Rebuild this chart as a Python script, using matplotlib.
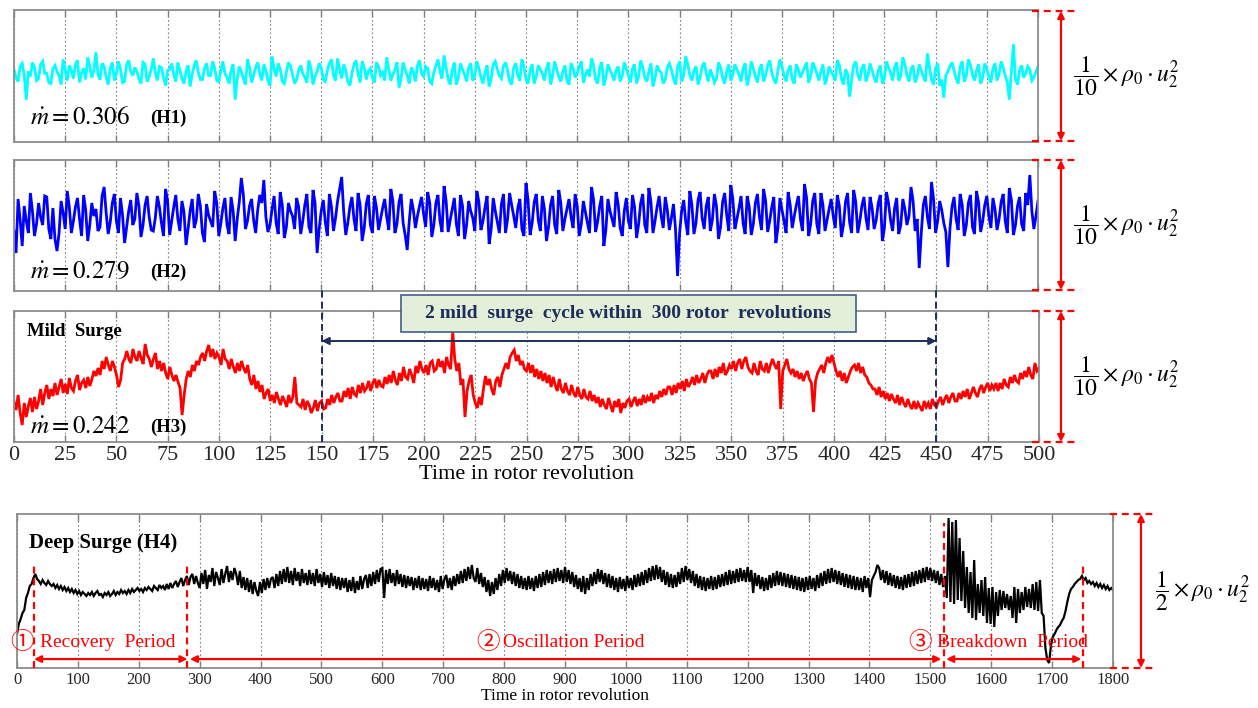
import matplotlib.pyplot as plt
import numpy as np
from matplotlib.patches import Rectangle
from matplotlib.transforms import blended_transform_factory

plt.rcParams['font.family'] = ['Liberation Serif', 'Noto Sans CJK JP', 'DejaVu Sans']
plt.rcParams['mathtext.fontset'] = 'stix'
plt.rcParams['lines.scale_dashes'] = False

W, H = 1258, 708

# pressure traces, height above the bottom of each panel
rev_short = np.arange(0, 501, 1)
rev_long = np.arange(0, 1801, 3)

h1 = [72, 64, 60, 75, 78, 66, 42, 70, 65, 79, 74, 61, 63, 77, 80, 68, 68, 59, 58, 73,
      76, 70, 66, 57, 82, 72, 61, 76, 71, 63, 77, 81, 59, 69, 73, 62, 84, 75, 64, 71,
      89, 67, 62, 78, 75, 64, 57, 73, 79, 61, 68, 80, 72, 59, 60, 77, 81, 70, 66, 74,
      70, 63, 58, 79, 77, 60, 65, 72, 83, 69, 61, 75, 74, 64, 56, 71, 72, 78, 67, 60,
      79, 71, 63, 58, 70, 76, 55, 67, 76, 81, 69, 62, 62, 73, 78, 66, 66, 80, 73, 61,
      60, 71, 80, 68, 64, 58, 71, 77, 42, 63, 75, 70, 63, 57, 82, 74, 59, 66, 74, 79,
      68, 61, 77, 71, 61, 56, 85, 73, 65, 78, 72, 60, 58, 69, 79, 75, 67, 58, 62, 71,
      76, 68, 64, 59, 81, 73, 57, 65, 70, 78, 74, 62, 60, 71, 78, 82, 66, 61, 83, 72,
      63, 77, 71, 60, 56, 68, 77, 81, 68, 59, 80, 74, 62, 70, 73, 64, 59, 79, 75, 66,
      69, 61, 84, 72, 61, 67, 72, 79, 54, 63, 79, 72, 66, 58, 74, 70, 60, 76, 81, 68,
      65, 75, 73, 60, 58, 69, 76, 82, 70, 63, 86, 74, 62, 57, 71, 79, 57, 64, 78, 72,
      67, 60, 74, 78, 61, 66, 80, 73, 64, 58, 69, 76, 55, 63, 77, 80, 72, 66, 63, 75,
      79, 71, 60, 57, 74, 78, 66, 61, 82, 75, 62, 58, 71, 77, 58, 65, 76, 72, 68, 61,
      73, 79, 57, 66, 80, 72, 65, 60, 70, 76, 61, 57, 78, 73, 64, 68, 75, 80, 59, 66,
      72, 65, 83, 76, 62, 58, 74, 79, 56, 64, 77, 72, 67, 61, 71, 75, 60, 66, 79, 73,
      66, 59, 73, 77, 58, 65, 81, 74, 64, 60, 70, 78, 55, 63, 76, 71, 69, 58, 62, 74,
      78, 72, 63, 57, 74, 80, 60, 66, 85, 77, 66, 61, 71, 75, 57, 64, 75, 79, 68, 60,
      72, 66, 59, 63, 79, 74, 64, 58, 70, 77, 61, 67, 77, 72, 67, 60, 73, 78, 56, 65,
      80, 73, 65, 59, 72, 77, 60, 66, 76, 81, 69, 62, 58, 71, 82, 75, 66, 60, 71, 76,
      62, 58, 77, 72, 64, 69, 74, 79, 59, 65, 79, 74, 68, 61, 70, 77, 57, 64, 75, 70,
      66, 61, 81, 76, 63, 57, 72, 68, 45, 62, 76, 80, 67, 61, 73, 77, 60, 66, 78, 71,
      64, 59, 71, 76, 58, 63, 80, 74, 69, 61, 74, 79, 61, 66, 84, 77, 66, 60, 72, 76,
      59, 65, 77, 71, 65, 60, 88, 74, 62, 57, 73, 78, 56, 62, 44, 66, 70, 75, 79, 71,
      63, 58, 75, 80, 60, 66, 82, 76, 67, 61, 71, 77, 58, 64, 78, 72, 65, 59, 73, 78,
      61, 67, 80, 74, 66, 59, 42, 70, 97, 62, 57, 71, 76, 64, 68, 75, 72, 61, 64, 70,
      75]

h2 = [60, 38, 92, 71, 45, 85, 70, 58, 98, 80, 55, 67, 88, 74, 66, 95, 94, 62, 52, 83,
      52, 40, 58, 90, 78, 62, 100, 84, 58, 70, 84, 93, 72, 55, 96, 81, 50, 66, 88, 75,
      82, 60, 64, 95, 104, 78, 57, 69, 88, 97, 70, 58, 93, 76, 48, 64, 80, 91, 66, 72,
      98, 85, 54, 66, 86, 95, 74, 61, 60, 73, 95, 84, 68, 55, 102, 90, 56, 70, 84, 96,
      72, 60, 90, 79, 46, 62, 80, 92, 63, 71, 97, 85, 58, 49, 87, 76, 70, 64, 100, 88,
      55, 68, 83, 93, 66, 57, 94, 80, 50, 72, 89, 113, 96, 62, 70, 85, 92, 71, 58, 81,
      96, 88, 111, 74, 59, 66, 82, 95, 68, 57, 99, 86, 53, 64, 88, 80, 75, 62, 93, 84,
      57, 70, 86, 97, 64, 58, 101, 88, 38, 62, 80, 91, 69, 55, 97, 84, 60, 73, 90, 102,
      114, 79, 56, 68, 84, 94, 72, 60, 98, 86, 50, 63, 87, 96, 66, 58, 95, 83, 61, 72,
      83, 92, 74, 61, 102, 90, 58, 67, 89, 97, 68, 56, 41, 70, 92, 81, 63, 75, 85, 94,
      77, 64, 99, 88, 54, 66, 88, 96, 70, 59, 105, 90, 59, 71, 82, 93, 67, 55, 96, 85,
      52, 66, 90, 80, 73, 60, 100, 89, 61, 70, 84, 95, 47, 62, 93, 80, 69, 58, 87, 97,
      58, 72, 98, 86, 75, 63, 83, 92, 62, 55, 108, 91, 56, 68, 89, 97, 71, 60, 95, 82,
      50, 64, 86, 95, 66, 57, 101, 88, 60, 72, 82, 92, 74, 63, 97, 85, 55, 67, 90, 79,
      68, 58, 104, 91, 59, 70, 85, 95, 45, 61, 92, 80, 72, 64, 99, 87, 63, 55, 80, 93,
      70, 62, 96, 84, 53, 67, 88, 97, 66, 58, 103, 89, 58, 70, 84, 95, 75, 63, 94, 81,
      61, 73, 87, 62, 15, 58, 80, 91, 69, 56, 100, 86, 57, 68, 91, 99, 73, 62, 85, 94,
      60, 71, 97, 85, 52, 64, 89, 98, 76, 60, 106, 92, 62, 72, 83, 95, 68, 57, 95, 84,
      56, 67, 88, 97, 74, 61, 102, 90, 59, 70, 84, 94, 48, 63, 93, 81, 70, 58, 99, 86,
      63, 75, 86, 95, 72, 60, 107, 93, 55, 67, 90, 98, 67, 57, 98, 86, 60, 71, 82, 92,
      75, 63, 96, 85, 54, 66, 89, 98, 69, 58, 101, 89, 58, 70, 85, 94, 73, 61, 94, 83,
      62, 71, 88, 96, 50, 63, 99, 88, 71, 60, 83, 93, 57, 66, 92, 82, 66, 75, 104, 90,
      60, 72, 23, 58, 86, 95, 74, 62, 109, 92, 58, 70, 90, 81, 68, 59, 24, 62, 84, 94,
      72, 61, 97, 86, 55, 66, 88, 96, 64, 57, 100, 88, 59, 70, 86, 95, 75, 63, 93, 82,
      61, 72, 89, 97, 70, 58, 103, 91, 56, 66, 85, 94, 67, 60, 98, 86, 116, 80, 62, 75,
      90]

h3 = [40, 32, 47, 29, 17, 39, 25, 36, 44, 30, 45, 33, 41, 53, 37, 49, 57, 43, 53, 46,
      59, 47, 55, 63, 49, 58, 48, 64, 54, 51, 61, 67, 52, 59, 62, 54, 65, 56, 63, 71,
      66, 74, 67, 81, 73, 85, 77, 71, 81, 75, 67, 55, 62, 79, 83, 91, 83, 79, 93, 85,
      81, 91, 84, 78, 98, 87, 83, 75, 83, 89, 73, 81, 71, 79, 69, 63, 75, 67, 61, 67,
      60, 54, 27, 47, 63, 71, 65, 77, 71, 81, 77, 85, 89, 81, 91, 97, 85, 93, 83, 89,
      85, 77, 93, 83, 81, 73, 83, 75, 69, 79, 71, 81, 74, 69, 77, 63, 57, 67, 53, 61,
      50, 57, 43, 49, 53, 41, 47, 39, 50, 43, 37, 46, 41, 35, 47, 39, 45, 65, 39, 37,
      35, 43, 32, 41, 37, 29, 34, 42, 31, 39, 41, 33, 34, 43, 37, 47, 39, 45, 49, 41,
      41, 51, 45, 54, 43, 55, 48, 46, 57, 49, 59, 51, 54, 61, 51, 59, 63, 54, 62, 56,
      55, 65, 58, 67, 59, 71, 62, 57, 69, 61, 75, 65, 63, 73, 67, 59, 76, 69, 81, 73,
      69, 77, 67, 79, 81, 71, 73, 83, 75, 81, 69, 85, 77, 73, 110, 83, 71, 79, 57, 63,
      25, 51, 61, 67, 47, 39, 34, 45, 37, 53, 66, 57, 63, 53, 47, 61, 65, 55, 67, 73,
      79, 73, 85, 89, 92, 81, 87, 77, 81, 73, 71, 79, 69, 77, 65, 73, 63, 71, 61, 69,
      59, 67, 55, 65, 57, 51, 63, 53, 49, 59, 51, 47, 57, 49, 45, 55, 47, 43, 53, 45,
      43, 51, 41, 47, 39, 45, 35, 43, 37, 33, 44, 37, 30, 41, 35, 43, 29, 39, 34, 41,
      43, 35, 41, 45, 36, 43, 37, 47, 39, 45, 41, 49, 39, 47, 43, 51, 45, 53, 47, 55,
      55, 47, 57, 49, 59, 53, 61, 51, 63, 55, 59, 65, 57, 67, 59, 63, 69, 59, 67, 71,
      71, 63, 73, 65, 75, 69, 79, 67, 71, 77, 73, 81, 71, 79, 83, 73, 81, 85, 75, 71,
      69, 79, 71, 67, 81, 73, 71, 79, 69, 77, 83, 77, 73, 81, 33, 71, 77, 83, 73, 69,
      73, 65, 71, 63, 69, 61, 67, 71, 63, 59, 30, 61, 69, 73, 77, 69, 79, 85, 79, 87,
      79, 71, 65, 71, 61, 69, 59, 65, 71, 75, 77, 71, 79, 69, 75, 67, 65, 59, 57, 53,
      53, 47, 55, 45, 51, 43, 49, 41, 48, 43, 39, 47, 37, 45, 39, 35, 43, 37, 33, 41,
      33, 39, 35, 31, 41, 35, 39, 33, 43, 37, 35, 41, 45, 37, 43, 47, 39, 45, 49, 41,
      41, 49, 43, 51, 45, 53, 43, 49, 55, 49, 45, 53, 57, 49, 55, 59, 51, 57, 53, 59,
      51, 59, 53, 63, 57, 55, 65, 59, 67, 61, 59, 69, 63, 71, 65, 75, 67, 63, 79, 71,
      74]

h4 = [34, 44, 49, 55, 58, 70, 75, 82, 84, 90, 94, 89, 87, 84, 88, 85, 83, 87, 84, 82,
      84, 80, 83, 79, 82, 78, 81, 77, 80, 76, 79, 75, 78, 74, 77, 73, 76, 74, 72, 75,
      73, 76, 72, 75, 77, 73, 74, 71, 75, 73, 76, 72, 74, 77, 73, 76, 74, 78, 75, 77,
      74, 78, 75, 79, 76, 78, 80, 77, 79, 76, 80, 78, 81, 79, 77, 82, 80, 78, 83, 80,
      82, 78, 84, 79, 85, 80, 84, 87, 81, 86, 90, 82, 88, 92, 83, 91, 94, 84, 92, 85,
      80, 95, 84, 98, 79, 93, 86, 100, 82, 96, 90, 83, 99, 85, 94, 102, 86, 97, 88, 100,
      94, 83, 97, 80, 91, 78, 90, 76, 88, 74, 86, 77, 72, 86, 75, 89, 78, 90, 80, 89,
      91, 80, 94, 82, 97, 84, 99, 86, 101, 85, 97, 83, 100, 87, 96, 82, 99, 85, 95, 83,
      98, 84, 95, 82, 99, 85, 94, 81, 96, 83, 93, 80, 95, 82, 92, 79, 91, 78, 90, 80,
      90, 76, 88, 77, 91, 75, 87, 78, 92, 79, 89, 93, 80, 94, 82, 96, 84, 98, 86, 99,
      100, 70, 98, 84, 99, 85, 95, 82, 98, 84, 94, 81, 93, 80, 92, 82, 91, 78, 90, 80,
      92, 78, 90, 79, 89, 77, 92, 80, 90, 78, 88, 76, 92, 79, 89, 93, 80, 90, 78, 92,
      82, 94, 84, 97, 85, 99, 87, 101, 89, 103, 90, 86, 100, 84, 95, 81, 91, 76, 88, 72,
      86, 74, 90, 78, 94, 82, 98, 85, 100, 87, 97, 84, 96, 82, 94, 80, 92, 79, 90, 78,
      92, 79, 90, 77, 92, 80, 94, 81, 96, 83, 98, 85, 97, 84, 99, 86, 100, 87, 98, 85,
      101, 86, 98, 84, 96, 81, 93, 79, 90, 76, 92, 74, 90, 78, 94, 82, 96, 84, 99, 86,
      98, 84, 95, 81, 94, 80, 92, 78, 90, 76, 91, 79, 89, 77, 92, 80, 90, 78, 93, 81,
      94, 82, 96, 83, 98, 85, 100, 87, 102, 88, 103, 89, 101, 86, 98, 83, 96, 81, 94, 80,
      93, 81, 96, 84, 100, 86, 102, 88, 99, 85, 97, 82, 94, 80, 92, 78, 91, 77, 90, 79,
      92, 78, 91, 79, 93, 81, 94, 82, 96, 83, 98, 84, 97, 85, 99, 86, 100, 87, 98, 86,
      101, 86, 98, 75, 95, 82, 93, 79, 91, 77, 90, 78, 93, 80, 95, 82, 97, 83, 96, 82,
      95, 81, 94, 80, 93, 79, 92, 78, 91, 77, 90, 76, 91, 78, 92, 79, 90, 77, 93, 80,
      95, 82, 97, 84, 99, 85, 100, 86, 98, 84, 97, 83, 95, 81, 94, 80, 93, 79, 92, 78,
      91, 78, 90, 76, 92, 80, 90, 71, 88, 92, 96, 103, 100, 88, 98, 85, 97, 83, 95, 82,
      93, 80, 92, 79, 91, 78, 93, 80, 94, 81, 96, 82, 97, 84, 98, 85, 100, 86, 101, 88,
      100, 87, 98, 85, 97, 83, 94, 81, 92, 70, 150, 66, 146, 64, 148, 68, 130, 67, 117, 60,
      101, 55, 96, 50, 108, 48, 84, 55, 88, 52, 91, 45, 80, 44, 81, 41, 76, 52, 78, 58,
      77, 60, 74, 58, 72, 50, 81, 45, 79, 55, 76, 58, 81, 61, 79, 60, 84, 58, 86, 57,
      88, 55, 52, 20, 8, 5, 22, 31, 34, 38, 41, 43, 47, 50, 57, 66, 74, 79, 81, 84,
      86, 88, 89, 92, 88, 90, 85, 87, 84, 86, 82, 85, 81, 84, 80, 83, 79, 82, 78, 80,
      78]

mdot_values = ['0.306', '0.279', '0.242']
case_tags = ['(H1)', '(H2)', '(H3)']
trace_colors = ['#00ffff', '#0000ff', '#ff0000']
short_ticks = np.arange(0, 501, 25)
long_ticks = np.arange(0, 1801, 100)
mild_window = [150, 450]
period_marks = [28, 280, 1522, 1751]
period_nums = ['\u2460', '\u2461', '\u2462']
period_names = ['Recovery  Period', 'Oscillation Period', 'Breakdown  Period']
period_num_x = [-11, 755, 1463]
period_name_x = [38, 798, 1511]

navy = '#1f2d5a'
grid_gray = '#808080'


def box(l, t, r, b):
    return [l / W, 1 - b / H, (r - l) / W, (b - t) / H]


def style(ax, ticks, xmax, ymax, size, labels):
    ax.set_xlim(0, xmax)
    ax.set_ylim(0, ymax)
    ax.set_xticks(ticks)
    ax.set_yticks([])
    ax.set_axisbelow(True)
    ax.grid(axis='x', color=grid_gray, linestyle=(0, (1.2, 1.8)), linewidth=0.8)
    ax.tick_params(axis='x', direction='in', top=True, length=5, width=1,
                   color=grid_gray, labelsize=size, labelbottom=labels,
                   labelcolor='#262626', pad=3)
    for s in ax.spines.values():
        s.set_color('#8c8c8c')
        s.set_linewidth(1.3)


fig = plt.figure(figsize=(W / 100, H / 100), dpi=100)
ax1 = fig.add_axes(box(14, 10, 1038, 142))
ax2 = fig.add_axes(box(14, 160, 1038, 291))
ax3 = fig.add_axes(box(14, 311, 1039, 442))
ax4 = fig.add_axes(box(17, 514, 1113, 668))

short_axes = [ax1, ax2, ax3]
traces = [h1, h2, h3]
tag_y = [0.18, 0.145, 0.115]
for i, ax in enumerate(short_axes):
    ax.plot(rev_short, traces[i], color=trace_colors[i], lw=2.0, solid_joinstyle='miter')
    style(ax, short_ticks, 500, 131, 16, i == 2)
    ax.text(0.016, tag_y[i], r'$\dot{m} = %s$' % mdot_values[i], transform=ax.transAxes,
            fontsize=18, va='center', ha='left')
    ax.text(0.133, tag_y[i], case_tags[i], transform=ax.transAxes,
            fontsize=13.5, fontweight='bold', va='center', ha='left')

ax3.set_xlabel('Time in rotor revolution', fontsize=16, labelpad=0)
ax3.text(0.0125, 0.84, 'Mild  Surge', transform=ax3.transAxes,
         fontsize=13.5, fontweight='bold', va='center', ha='left')

# mild surge cycle window
t3 = blended_transform_factory(ax3.transData, ax3.transAxes)
for x in mild_window:
    ax3.plot([x, x], [0, 1.18], transform=t3, color=navy, lw=1.4,
             dashes=(5, 3), clip_on=False, zorder=4)
ax3.annotate('', xy=(mild_window[1], 0.771), xytext=(mild_window[0], 0.771),
             xycoords=t3, textcoords=t3,
             arrowprops=dict(arrowstyle='<|-|>', color=navy, lw=1.4,
                             mutation_scale=11, shrinkA=0, shrinkB=0))

# deep surge panel
ax4.plot(rev_long, h4, color='black', lw=1.6, solid_joinstyle='miter')
style(ax4, long_ticks, 1800, 154, 12, True)
ax4.set_xlabel('Time in rotor revolution', fontsize=12.5, labelpad=0)
ax4.text(0.011, 0.81, 'Deep Surge (H4)', transform=ax4.transAxes,
         fontsize=15, fontweight='bold', va='center', ha='left')

t4 = blended_transform_factory(ax4.transData, ax4.transAxes)
mark_tops = [0.68, 0.66, 0.94, 0.67]
for x, top in zip(period_marks, mark_tops):
    ax4.plot([x, x], [0, top], transform=t4, color='red', lw=1.6,
             dashes=(5, 3.5), clip_on=False, zorder=4)
spans = [(period_marks[0], period_marks[1]), (period_marks[1] + 4, period_marks[2] - 4),
         (period_marks[2] + 4, period_marks[3] - 3)]
for a, b in spans:
    ax4.annotate('', xy=(b, 0.058), xytext=(a, 0.058), xycoords=t4, textcoords=t4,
                 arrowprops=dict(arrowstyle='<|-|>', color='red', lw=1.6,
                                 mutation_scale=10, shrinkA=0, shrinkB=0))
for xn, xl, num, name in zip(period_num_x, period_name_x, period_nums, period_names):
    ax4.text(xn, 0.165, num, transform=t4, color='red', fontsize=17,
             va='center', ha='left', clip_on=False)
    ax4.text(xl, 0.165, name, transform=t4, color='red', fontsize=14,
             va='center', ha='left', clip_on=False)

# scale brackets on the right, drawn in pixel space
ov = fig.add_axes([0, 0, 1, 1], zorder=10)
ov.set_xlim(0, W)
ov.set_ylim(H, 0)
ov.axis('off')

brackets = [
    (11, 141, 1032, 1075, 1061, 1073, r'$\dfrac{1}{10}\times\rho_0\cdot u_2^2$'),
    (160, 290, 1032, 1075, 1061, 1073, r'$\dfrac{1}{10}\times\rho_0\cdot u_2^2$'),
    (311, 442, 1032, 1075, 1061, 1073, r'$\dfrac{1}{10}\times\rho_0\cdot u_2^2$'),
    (514, 668, 1110, 1155, 1141, 1155, r'$\dfrac{1}{2}\times\rho_0\cdot u_2^2$'),
]
for top, bot, x0, x1, xa, xt, lab in brackets:
    for y in (top, bot):
        ov.plot([x0, x1], [y, y], color='red', lw=1.6, dashes=(5, 3.5))
    ov.annotate('', xy=(xa, top), xytext=(xa, bot),
                arrowprops=dict(arrowstyle='<|-|>', color='red', lw=1.6,
                                mutation_scale=10, shrinkA=0, shrinkB=0))
    ov.text(xt, (top + bot) / 2, lab, fontsize=17, va='center', ha='left')

ov.add_patch(Rectangle((401, 295), 455, 37, facecolor='#e3efd9', edgecolor='#3f5f8f', lw=1.2))
ov.text(628.5, 313.5, '2 mild  surge  cycle within  300 rotor  revolutions',
        fontsize=14, fontweight='bold', color=navy, ha='center', va='center')

fig.savefig('out.png', dpi=100)
